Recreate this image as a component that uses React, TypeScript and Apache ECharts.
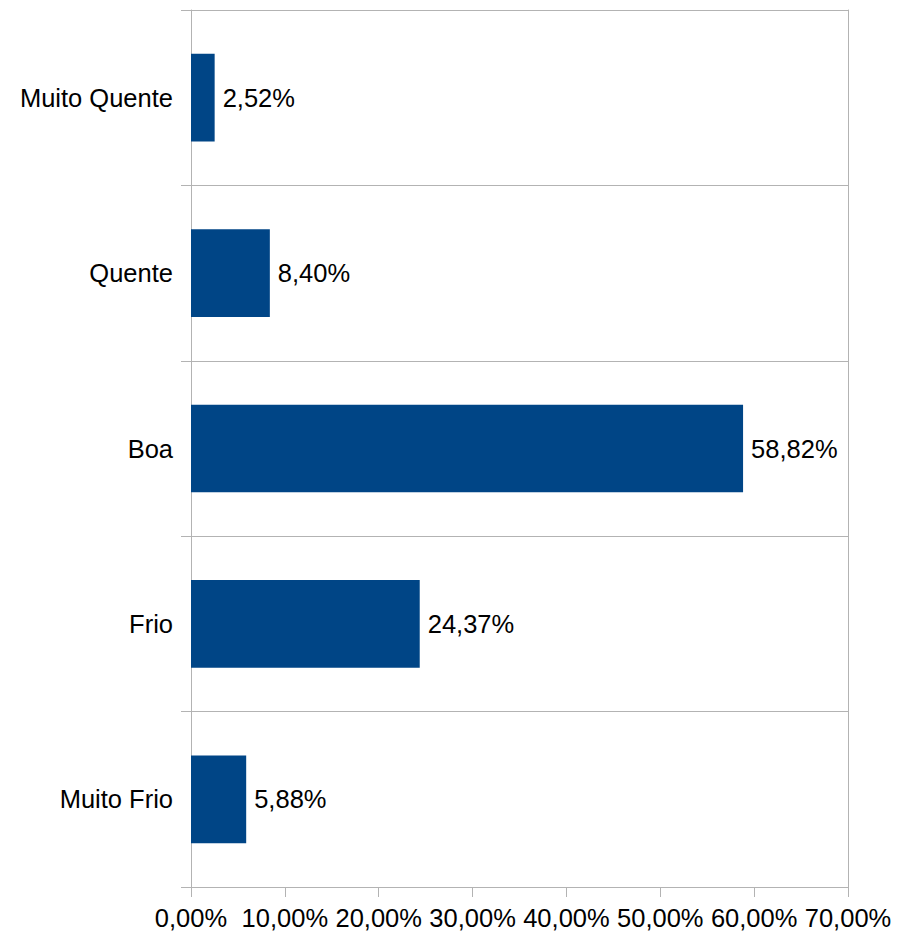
import React, { useEffect, useRef } from "react";
import * as echarts from "echarts";

const categories = ["Muito Quente", "Quente", "Boa", "Frio", "Muito Frio"];
const values = [2.52, 8.4, 58.82, 24.37, 5.88];
const xTicks = [0, 10, 20, 30, 40, 50, 60, 70];

const fmt = (v: number) => v.toFixed(2).replace(".", ",") + "%";

export default function App() {
  const ref = useRef<HTMLDivElement>(null);
  useEffect(() => {
    if (!ref.current) return;
    const chart = echarts.init(ref.current, undefined, { renderer: "svg" });
    const gray = "#b3b3b3";
    chart.setOption({
      animation: false,
      textStyle: { fontFamily: "Liberation Sans", color: "#000" },
      grid: { left: 191, right: 49, top: 10, bottom: 50, containLabel: false },
      xAxis: {
        type: "value",
        min: xTicks[0],
        max: xTicks[xTicks.length - 1],
        interval: 10,
        axisLine: { show: true, lineStyle: { color: gray, width: 1 } },
        axisTick: { show: true, length: 10, lineStyle: { color: gray } },
        splitLine: { show: false },
        axisLabel: {
          formatter: (v: number) => fmt(v),
          fontSize: 25.5,
          color: "#000",
          margin: 18,
          fontFamily: "Liberation Sans",
        },
      },
      yAxis: [
        {
          type: "category",
          data: categories,
          inverse: true,
          axisLine: { show: true, lineStyle: { color: gray } },
          axisTick: { show: true, length: 10, lineStyle: { color: gray } },
          splitLine: { show: true, lineStyle: { color: gray } },
          axisLabel: {
            fontSize: 25.5,
            color: "#000",
            margin: 18,
            fontFamily: "Liberation Sans",
          },
        },
        {
          type: "category",
          data: categories,
          inverse: true,
          position: "right",
          axisLine: { show: true, lineStyle: { color: gray } },
          axisTick: { show: false },
          axisLabel: { show: false },
          splitLine: { show: false },
        },
      ],
      series: [
        {
          type: "bar",
          data: values,
          yAxisIndex: 0,
          barWidth: "50%",
          itemStyle: { color: "#004586" },
          label: {
            show: true,
            position: "right",
            distance: 8,
            formatter: (p: any) => fmt(p.value),
            fontSize: 25.5,
            color: "#000",
            fontFamily: "Liberation Sans",
          },
        },
      ],
    });
    return () => chart.dispose();
  }, []);
  return <div ref={ref} style={{ width: 897, height: 937, position: "absolute", left: 0, top: 0 }} />;
}
